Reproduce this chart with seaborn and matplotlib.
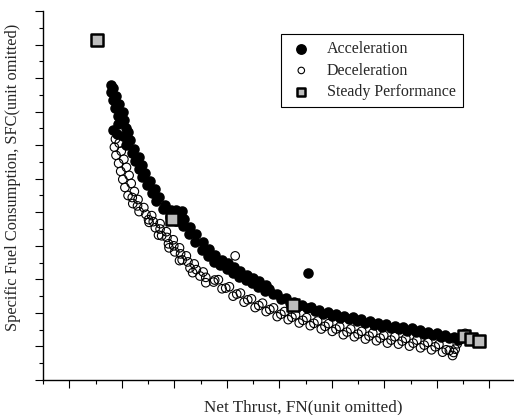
import matplotlib
matplotlib.use("Agg")
import matplotlib.pyplot as plt
from matplotlib.ticker import MultipleLocator, NullFormatter
import seaborn as sns

# values (axes carry no units, "unit omitted")
accel_thrust = [
    18.0, 18.4, 17.9, 18.9, 18.3, 19.5, 18.8, 20.2, 19.2, 20.4, 19.3, 20.8,
    18.3, 19.0, 21.1, 20.2, 21.6, 20.9, 22.4, 21.9, 23.3, 22.6, 23.9, 23.2,
    24.5, 23.9, 25.4, 24.9, 26.3, 25.7, 27.1, 26.6, 28.2, 27.9,
    29.4, 29.2, 30.6, 30.4, 30.4, 31.5, 31.8, 31.6, 33.0, 32.8, 34.2, 34.0,
    35.4, 35.2, 36.6, 36.4, 37.8, 37.6, 39.0, 38.8, 40.2, 40.0, 41.4, 41.2,
    42.6, 42.4, 43.8, 43.6, 45.0, 44.8, 46.2, 46.0, 47.4, 47.2,
    48.0, 48.8, 49.6, 50.4, 51.2, 52.0, 52.8, 53.6, 54.4, 55.2, 56.0, 56.8,
    57.6, 58.4, 59.2, 60.0, 60.8, 61.6, 62.4, 63.2, 64.0, 64.8, 65.6, 66.4,
    67.2, 68.0, 68.8, 69.6, 70.4, 71.2, 72.0, 72.8, 73.6, 74.4, 75.2, 76.0,
    76.8, 77.6, 78.4, 79.2, 80.0, 80.8, 81.6, 82.4, 83.2, 84.0, 84.6,
    55.5,
]
accel_sfc = [
    87.8, 87.0, 85.8, 84.6, 83.4, 82.2, 81.0, 79.8, 78.6, 77.4, 76.2, 75.0,
    74.6, 73.4, 73.8, 72.6, 71.4, 70.2, 69.0, 67.8, 66.6, 65.4, 64.2, 63.0,
    61.8, 60.6, 59.4, 58.2, 57.0, 55.8, 54.6, 53.4, 52.2, 51.0,
    50.6, 48.6, 49.3, 47.5, 50.6, 50.4, 48.1, 46.0, 45.7, 43.4, 43.5, 41.1,
    41.2, 38.9, 39.2, 37.0, 37.3, 35.3, 35.9, 34.2, 34.8, 33.0, 33.6, 31.8,
    32.4, 30.6, 31.4, 29.8, 30.5, 28.8, 29.5, 27.7, 28.2, 26.4,
    27.0, 25.7, 25.7, 24.2, 24.4, 23.0, 23.3, 22.1, 22.5, 21.4, 21.8, 20.6,
    21.0, 19.8, 20.3, 19.2, 19.7, 18.6, 19.2, 18.2, 18.7, 17.7, 18.2, 17.1,
    17.6, 16.5, 17.0, 15.9, 16.6, 15.6, 16.2, 15.2, 15.7, 14.7, 15.4, 14.3,
    14.8, 13.8, 14.4, 13.4, 13.9, 12.9, 13.5, 12.4, 12.9, 11.9, 12.4,
    31.9,
]

decel_thrust = [
    18.8, 19.5, 18.6, 19.9, 18.9, 20.4, 19.4, 20.9, 19.8, 21.4, 20.2, 21.8,
    20.6, 22.4, 21.2, 23.1, 22.1, 24.2, 23.3, 25.7, 25.1, 27.3, 26.4, 28.5,
    27.6, 29.8, 28.9, 31.0, 30.1, 32.3, 31.5, 33.8, 33.0, 35.5, 34.9, 37.7,
    22.0, 23.0, 24.6, 26.0, 27.3, 28.6, 29.9, 31.2, 32.6, 34.2, 36.0, 37.5,
    25.2, 27.0, 29.0, 31.0, 33.5, 36.0,
    38.4, 39.1, 39.8, 40.5, 41.2, 41.9, 42.6, 43.3, 44.0, 44.7, 45.4, 46.1,
    46.8, 47.5, 48.2, 48.9, 49.6, 50.3, 51.0, 51.7, 52.4, 53.1, 53.8, 54.5,
    55.2, 55.9, 56.6, 57.3, 58.0, 58.7, 59.4, 60.1, 60.8, 61.5, 62.2, 62.9,
    63.6, 64.3, 65.0, 65.7, 66.4, 67.1, 67.8, 68.5, 69.2, 69.9, 70.6, 71.3,
    72.0, 72.7, 73.4, 74.1, 74.8, 75.5, 76.2, 76.9, 77.6, 78.3, 79.0, 79.7,
    80.4, 81.1, 81.8, 82.4, 83.0, 83.2, 83.5, 83.9, 84.3, 84.8, 85.4,
    41.6,
]
decel_sfc = [
    71.8, 70.6, 69.4, 68.2, 67.0, 65.8, 64.6, 63.4, 62.2, 61.0, 59.8, 58.6,
    57.4, 56.2, 55.0, 53.8, 52.6, 51.4, 50.2, 49.0, 47.8, 46.6, 45.4, 44.2,
    43.0, 41.8, 40.6, 39.4, 38.2, 37.0, 35.8, 34.6, 33.4, 32.2, 31.0, 29.8,
    54.4, 51.9, 49.4, 47.2, 45.0, 42.5, 40.0, 37.6, 35.2, 32.9, 30.6, 29.2,
    47.0, 43.2, 39.4, 35.6, 32.0, 29.0,
    29.9, 27.2, 27.4, 27.8, 25.0, 25.6, 25.9, 23.2, 23.9, 24.2, 21.6, 22.2,
    22.9, 20.4, 21.0, 21.5, 18.9, 19.6, 20.4, 18.0, 18.7, 19.4, 17.0, 17.8,
    18.6, 16.2, 16.9, 17.6, 15.2, 16.0, 16.8, 14.5, 15.2, 15.9, 13.5, 14.3,
    15.2, 12.9, 13.7, 14.5, 12.2, 13.1, 14.0, 11.7, 12.5, 13.3, 11.0, 11.9,
    12.9, 10.7, 11.6, 12.4, 10.1, 11.0, 11.9, 9.6, 10.4, 11.2, 9.0, 9.9,
    10.6, 8.3, 9.0, 8.8, 7.3, 8.2, 9.2, 10.8, 12.0, 13.0, 13.9,
    37.0,
]

steady_thrust = [15.2, 29.6, 52.6, 85.2, 86.5, 88.0]
steady_sfc = [101.5, 48.1, 22.4, 13.1, 12.2, 11.6]

sns.set_style("ticks")
plt.rcParams["font.family"] = ["Liberation Serif", "DejaVu Serif"]

fig = plt.figure(figsize=(5.14, 4.15), dpi=100)
ax = fig.add_axes([43 / 514, 35 / 415, 471 / 514, 369 / 415])

sns.scatterplot(x=decel_thrust, y=decel_sfc, ax=ax, marker="o", s=38,
                color="black", facecolors="none", edgecolor="black",
                linewidth=0.8, label="Deceleration", zorder=2)
sns.scatterplot(x=accel_thrust, y=accel_sfc, ax=ax, marker="o", s=42,
                color="black", edgecolor="black", linewidth=1.1,
                label="Acceleration", zorder=3)
sns.scatterplot(x=steady_thrust, y=steady_sfc, ax=ax, marker="s", s=70,
                color="#bdbdbd", edgecolor="black", linewidth=1.8,
                label="Steady Performance", zorder=4)

ax.set_xlim(5, 94.7)
ax.set_ylim(0, 110)
ax.xaxis.set_major_locator(MultipleLocator(10))
ax.xaxis.set_minor_locator(MultipleLocator(5))
ax.yaxis.set_major_locator(MultipleLocator(10))
ax.yaxis.set_minor_locator(MultipleLocator(5))
ax.xaxis.set_major_formatter(NullFormatter())
ax.yaxis.set_major_formatter(NullFormatter())
ax.tick_params(which="major", direction="out", length=5.8, width=0.8, color="black")
ax.tick_params(which="minor", direction="out", length=2.8, width=0.8, color="black")
sns.despine(ax=ax)
for side in ["left", "bottom"]:
    ax.spines[side].set_color("black")
    ax.spines[side].set_linewidth(1.0)
ax.set_xlabel("")
ax.set_ylabel("")

# legend in the order of the picture
handles, labels = ax.get_legend_handles_labels()
order = [labels.index(n) for n in ["Acceleration", "Deceleration", "Steady Performance"]]
leg = ax.legend([handles[i] for i in order], [labels[i] for i in order],
                loc="upper left", bbox_to_anchor=(0.506, 0.938), borderaxespad=0,
                fontsize=11.5, frameon=True, fancybox=False, framealpha=1,
                edgecolor="black", handlelength=1.6, handletextpad=0.8,
                labelspacing=0.35, borderpad=0.45)
leg.get_frame().set_linewidth(0.8)
for h, size in zip(leg.legend_handles, [45, 22, 30]):
    h.set_sizes([size])

fig.text(303 / 514, 1 - 407 / 415, "Net Thrust, FN(unit omitted)",
         ha="center", va="center", fontsize=12.3)
fig.text(13 / 514, 1 - 177 / 415, "Specific Fuel Consumption, SFC(unit omitted)",
         ha="center", va="center", rotation=90, fontsize=11.8)

fig.savefig("out.png", dpi=100)
